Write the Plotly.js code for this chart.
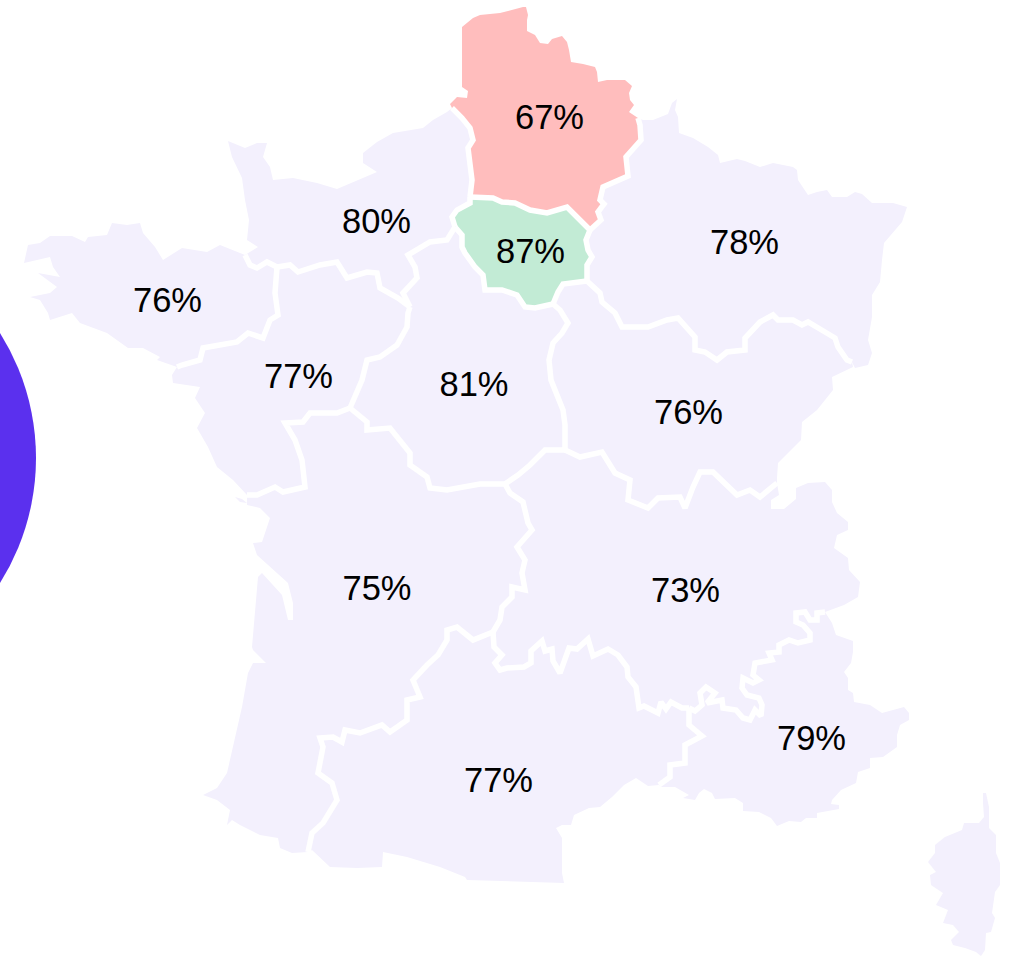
<!DOCTYPE html>
<html><head><meta charset="utf-8">
<script src="https://cdn.plot.ly/plotly-3.0.1.min.js"></script>
<style>html,body{margin:0;padding:0;background:#fff;overflow:hidden}</style>
</head><body><div id="chart" style="width:1015px;height:956px"></div>
<script>
// Labels
const labelText = ['67%','87%','80%','78%','76%','77%','81%','76%','75%','73%','79%','77%'];
const labelX = [549.5,530.5,376.5,744.5,167.5,298.5,474,688.5,377,685.5,811.5,498.5];
const labelY = [120,254,224,245,303,379,387,415,591,593,741,783];

// Region borders (map units), shared between neighbours
const bNH=[[452,108],[462,118],[470,128],[473,140],[468,148],[470,163],[472,180],[470,197]];
const bIH=[[470,197],[493,198],[502,202],[515,203],[530,210],[547,213],[567,207],[590,230]];
const bHG=[[638,118],[640,125],[641,140],[633,150],[626,157],[628,176],[618,180],[603,187],[600,200],[604,204],[598,212],[601,220],[590,230]];
const bIG=[[590,230],[586,240],[588,250],[592,257],[587,265],[587,281]];
const bGB=[[852,362],[847,360],[838,347],[835,338],[825,332],[808,322],[802,325],[793,320],[778,320],[773,315],[760,322],[745,338],[745,350],[727,352],[717,360],[705,352],[695,350],[695,337],[678,318],[667,320],[648,327],[635,327],[622,327],[615,313],[602,302],[600,293],[587,281]];
const bIB=[[587,281],[563,284],[558,292],[553,304]];
const bIC=[[553,304],[535,308],[525,307],[517,295],[502,290],[485,290],[483,275],[475,267],[465,253],[462,247],[462,235],[455,227]];
const bIN=[[470,197],[470,203],[457,210],[452,217],[455,227]];
const bNC=[[410,307],[403,293],[417,278],[415,267],[408,255],[430,242],[447,240],[455,227]];
const bNP=[[277,267],[290,265],[298,272],[320,265],[337,262],[347,278],[367,272],[377,273],[380,288],[398,298],[410,307]];
const bNB=[[245,255],[250,265],[257,268],[267,262],[277,267]];
const bBP=[[177,367],[182,365],[200,360],[203,348],[237,342],[248,333],[263,338],[270,320],[278,315],[275,293],[277,267]];
const bPC=[[410,307],[408,313],[407,327],[397,345],[380,357],[367,360],[362,380],[352,403],[350,408]];
const bPN=[[247,495],[257,495],[275,487],[283,492],[305,487],[302,460],[295,440],[285,423],[303,422],[310,413],[337,413],[350,408]];
const bCN=[[350,408],[367,422],[367,430],[390,428],[410,453],[410,465],[427,477],[430,488],[447,490],[467,487],[480,484],[505,484]];
const bCB=[[553,304],[560,310],[568,323],[562,333],[553,343],[549,360],[551,380],[557,395],[563,410],[565,425],[565,450]];
const bCA=[[565,450],[545,450],[530,465],[518,475],[505,484]];
const bBA=[[565,450],[580,457],[602,452],[615,473],[630,480],[628,500],[648,508],[658,498],[680,497],[685,508],[693,487],[700,472],[713,472],[737,495],[750,490],[760,497],[777,483]];
const bNA=[[505,484],[510,493],[523,502],[528,523],[532,530],[517,547],[525,560],[522,573],[525,590],[512,587],[512,597],[502,607],[500,620],[493,632]];
const bNO=[[308,852],[312,833],[323,823],[337,800],[332,783],[318,773],[323,747],[320,738],[333,737],[342,742],[345,730],[360,733],[382,725],[390,732],[407,720],[407,700],[420,697],[413,680],[427,665],[438,655],[447,640],[447,630],[457,627],[473,640],[493,632]];
const bAO=[[493,632],[494,647],[502,655],[495,663],[500,670],[507,668],[524,667],[531,663],[531,651],[542,641],[545,651],[552,649],[553,661],[560,673],[569,648],[577,649],[588,639],[593,656],[608,649],[618,655],[627,667],[628,677],[636,687],[639,708],[644,706],[658,713],[661,702],[666,709],[671,702],[682,708],[689,708]];
const bAP=[[825,612],[817,613],[817,620],[810,620],[805,612],[796,613],[796,622],[803,625],[810,633],[810,640],[798,643],[789,640],[779,645],[779,652],[769,653],[772,660],[755,663],[753,675],[759,680],[753,683],[743,678],[742,688],[747,695],[759,698],[762,705],[761,716],[755,710],[750,720],[743,718],[736,710],[723,708],[722,700],[707,703],[715,693],[706,687],[700,693],[702,705],[695,711],[689,708]];
const bOP=[[689,708],[689,725],[702,736],[685,745],[685,763],[670,765],[670,777],[659,785]];

// Coastlines and land frontiers
const coastH=[[452,108],[450,104],[457,97],[467,98],[468,91],[462,87],[462,27],[473,18],[480,15],[500,13],[523,7],[526,7],[528,15],[527,20],[527,31],[535,35],[540,43],[548,44],[552,39],[562,36],[567,42],[569,50],[571,62],[583,64],[595,67],[597,72],[598,82],[607,80],[625,80],[632,86],[629,93],[630,100],[634,105],[629,112],[638,118]];
const coastG=[[638,118],[643,120],[653,120],[668,114],[672,103],[677,99],[675,110],[678,117],[679,133],[693,138],[708,147],[718,155],[720,163],[737,159],[745,161],[760,167],[773,163],[793,167],[797,170],[798,180],[808,195],[817,192],[827,190],[832,197],[847,197],[855,192],[862,194],[872,203],[893,203],[907,207],[902,222],[893,233],[884,243],[882,260],[880,282],[872,295],[872,317],[868,340],[872,353],[868,365],[855,368],[852,362]];
const coastB=[[852,362],[853,367],[832,377],[833,390],[817,410],[802,422],[801,440],[778,463],[777,478],[777,483]];
const coastN=[[452,108],[447,112],[433,120],[423,128],[393,133],[377,142],[363,153],[363,163],[377,172],[358,180],[337,189],[317,183],[293,178],[273,180],[270,167],[263,157],[267,143],[257,143],[245,148],[228,141],[232,157],[242,178],[245,200],[249,220],[247,240],[258,247],[245,255]];
const coastBr=[[245,255],[220,245],[207,252],[182,248],[163,260],[155,247],[143,233],[140,223],[127,225],[112,223],[107,235],[88,237],[85,242],[72,236],[50,236],[40,243],[28,245],[24,263],[50,257],[53,267],[60,277],[38,273],[57,287],[50,293],[30,297],[40,300],[48,313],[50,320],[72,313],[80,323],[107,333],[128,348],[143,348],[160,357],[157,360],[177,367]];
const coastP=[[177,367],[172,375],[173,383],[200,387],[195,398],[205,413],[197,428],[208,447],[217,467],[233,480],[247,495]];
const coastNA=[[247,495],[247,505],[260,508],[270,518],[267,527],[262,542],[253,543],[257,555],[288,583],[293,603],[293,620],[288,620],[282,595],[262,573],[258,577],[252,647],[253,650],[266,663],[253,663],[248,673],[242,707],[233,747],[227,773],[217,788],[203,795],[217,800],[230,810],[227,825],[232,820],[240,825],[260,835],[278,838],[280,848],[292,853],[305,852],[308,852]];
const coastO=[[659,785],[648,786],[636,778],[624,785],[612,797],[600,807],[589,808],[574,815],[571,825],[562,825],[556,828],[562,838],[562,873],[564,883],[467,880],[465,877],[440,867],[407,857],[383,852],[382,867],[357,868],[330,867],[312,850],[308,852]];
const coastA=[[777,483],[779,495],[771,500],[771,509],[784,509],[796,499],[796,488],[808,483],[825,482],[832,490],[832,502],[837,513],[848,522],[848,530],[837,535],[834,548],[848,558],[849,570],[860,582],[858,597],[844,605],[825,612]];
const coastPACA=[[659,785],[661,787],[675,787],[689,795],[683,798],[695,800],[699,793],[704,789],[712,793],[715,799],[735,798],[743,803],[743,811],[759,812],[771,818],[777,826],[789,821],[801,822],[806,818],[817,818],[817,813],[839,809],[839,805],[831,804],[832,800],[841,790],[856,783],[858,772],[870,768],[870,758],[883,757],[897,747],[897,735],[900,725],[909,720],[909,713],[904,707],[882,713],[870,705],[854,702],[853,693],[848,690],[848,678],[844,672],[851,663],[853,652],[853,641],[836,635],[832,623],[825,612]];
const corsica=[[983,793],[986,793],[989,807],[989,817],[989,828],[996,835],[996,853],[1000,863],[1000,885],[995,892],[992,913],[995,918],[991,932],[986,933],[985,950],[981,956],[976,952],[965,948],[953,945],[951,940],[959,932],[953,925],[943,923],[948,910],[936,905],[943,893],[931,885],[930,875],[936,872],[928,862],[935,853],[935,845],[945,837],[962,830],[964,823],[979,823],[984,817],[983,803]];
const ileRe=[[235,497],[242,499],[247,503],[240,502]];

const rev = a => a.slice().reverse();
const chain = (...parts) => parts.flat();
const landColor='#F3F0FD', redColor='#FFBDBD', greenColor='#C2EBD5';
const regions=[
  {p:chain(coastN,bNB,bNP,bNC,rev(bIN),rev(bNH)),c:landColor},
  {p:chain(coastBr,bBP,rev(bNB)),c:landColor},
  {p:chain(coastP,bPN,rev(bPC),rev(bNP),rev(bBP)),c:landColor},
  {p:chain(bNC,rev(bIC),bCB,bCA,rev(bCN),rev(bPC)),c:landColor},
  {p:chain(coastNA,bNO,rev(bNA),rev(bCN),rev(bPN)),c:landColor},
  {p:chain(bGB,bIB,bCB,bBA,rev(coastB)),c:landColor},
  {p:chain(coastG,bGB,rev(bIG),rev(bHG)),c:landColor},
  {p:chain(rev(bCA),bBA,coastA,bAP,rev(bAO),rev(bNA)),c:landColor},
  {p:chain(bAO,bOP,coastO,bNO),c:landColor},
  {p:chain(bOP,coastPACA,bAP),c:landColor},
  {p:corsica,c:landColor},
  {p:ileRe,c:landColor},
  {p:chain(coastH,bHG,rev(bIH),rev(bNH)),c:redColor},
  {p:chain(bIH,bIG,bIB,bIC,rev(bIN)),c:greenColor}
];
const borders=[bNH,bIH,bHG,bIG,bGB,bIB,bIC,bIN,bNC,bNP,bNB,bBP,bPC,bPN,bCN,bCB,bCA,bBA,bNA,bNO,bAO,bAP,bOP];

const traces=[];
regions.forEach(r=>traces.push({type:'scatter',mode:'lines',x:r.p.map(q=>q[0]),y:r.p.map(q=>q[1]),fill:'toself',fillcolor:r.c,line:{width:0,color:r.c},hoverinfo:'skip',showlegend:false}));
borders.forEach(b=>traces.push({type:'scatter',mode:'lines',x:b.map(q=>q[0]),y:b.map(q=>q[1]),line:{color:'#ffffff',width:5.5,shape:'linear'},hoverinfo:'skip',showlegend:false}));
traces.push({type:'scatter',mode:'text',x:labelX,y:labelY,text:labelText,textposition:'middle center',textfont:{family:'"Liberation Sans", Arial, sans-serif',size:34.5,color:'#000000'},hoverinfo:'skip',showlegend:false,cliponaxis:false});

const layout={
  width:1015,height:956,margin:{l:0,r:0,t:0,b:0},paper_bgcolor:'#ffffff',plot_bgcolor:'#ffffff',showlegend:false,
  xaxis:{range:[0,1015],visible:false,fixedrange:true},
  yaxis:{range:[956,0],visible:false,fixedrange:true},
  shapes:[{type:'circle',xref:'x',yref:'y',x0:-434,x1:36,y0:223,y1:693,fillcolor:'#5B30EE',line:{width:0},layer:'below'}]
};
Plotly.newPlot('chart',traces,layout,{displayModeBar:false,staticPlot:true});
</script></body></html>
